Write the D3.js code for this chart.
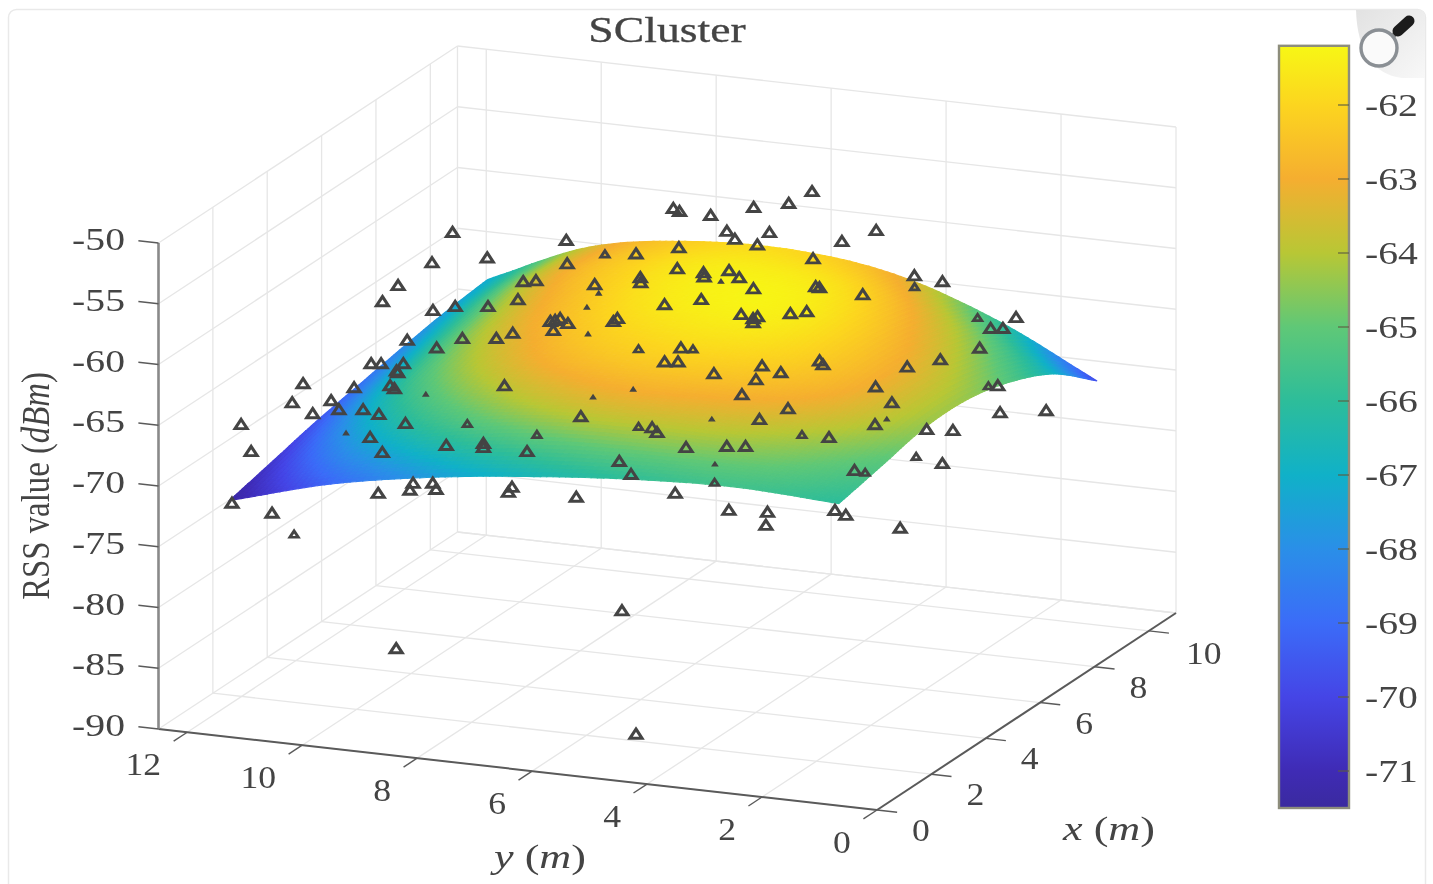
<!DOCTYPE html>
<html>
<head>
<meta charset="utf-8">
<script src="https://cdn.jsdelivr.net/npm/d3@7"></script>
<style>
  html, body { margin: 0; padding: 0; background: #fff; }
  svg { display: block; filter: blur(0.45px); }
  text { font-family: "Liberation Serif", serif; fill: #444; }
</style>
</head>
<body>
<div id="chart"></div>
<script>
// axis ticks
var xTicks = [0, 2, 4, 6, 8, 10];
var yTicks = [0, 2, 4, 6, 8, 10, 12];
var zTicks = [-90, -85, -80, -75, -70, -65, -60, -55, -50];
var colorTicks = [-62, -63, -64, -65, -66, -67, -68, -69, -70, -71];

// colour bar samples, low to high
var colorLevels = [-71.5, -71, -70, -69, -68, -67, -66, -65, -64, -63, -62, -61.2];
var colorStops = ["#3a2a9f", "#3f2bb5", "#4545e6", "#3b6cf8", "#2a8fe8", "#10b1c8", "#2dbd9a", "#5fc877", "#b8c735", "#f5ae30", "#fcd51f", "#f7f715"];

// fitted surface, rows run along x, columns along y
var surfX = [0.5, 2.08, 3.67, 5.25, 6.83, 8.42, 10];
var surfY = [0.9, 2.67, 4.43, 6.2, 7.97, 9.73, 11.5];
var surfRss = [
  [-66.0, -65.6, -65.9, -66.6, -67.6, -69.1, -71.4],
  [-65.2, -64.3, -63.9, -64.0, -65.0, -67.0, -70.5],
  [-64.4, -63.1, -62.6, -62.6, -63.4, -65.5, -69.6],
  [-64.4, -62.7, -61.8, -61.8, -62.6, -64.6, -68.9],
  [-65.3, -63.0, -61.5, -61.35, -62.1, -64.0, -68.2],
  [-67.0, -64.0, -61.9, -61.4, -61.9, -63.5, -67.6],
  [-69.9, -65.8, -63.0, -61.95, -62.2, -63.6, -67.2]
];

// measured points [x, y], one list per RSS level
var rssLevels = [-55, -60, -65, -70, -75, -85, -90];
var points55 = [[8.86,5.32],[8.17,5.40],[7.79,5.83],[7.18,6.29],[7.31,7.00],[7.20,6.84],[6.51,5.69],[6.17,5.39],[6.68,5.03],[6.64,3.75],[7.35,3.49],[4.98,9.74],[5.21,7.87]];
var points60 = [[8.92,6.30],[6.85,10.02],[6.32,10.73],[8.36,7.40],[7.84,7.90],[7.00,8.70],[8.56,5.16],[5.91,8.95],[6.02,8.78],[7.35,6.95],[7.30,6.47],[7.11,6.37],[7.54,6.14],[7.26,5.83],[6.73,7.30],[6.49,7.18],[6.15,7.82],[7.24,4.49],[7.21,4.41],[7.11,3.61],[6.81,5.37],[5.05,10.72],[5.02,8.62],[4.53,8.91],[4.36,9.40],[4.05,9.64],[4.20,10.59],[5.57,6.33],[6.01,5.90],[5.51,4.97],[5.38,4.70],[5.50,4.68],[5.19,4.61],[5.82,4.26],[6.00,4.06],[4.16,7.65],[4.23,7.60],[4.35,7.57],[4.15,7.34],[3.74,7.40],[4.66,6.72],[4.49,6.71],[3.39,7.94],[3.06,8.07],[2.87,8.57],[2.49,9.35],[8.29,3.27],[8.16,2.72],[6.19,0.95],[6.26,0.77],[6.85,0.82]];
var points65 = [[5.18,10.11],[6.49,6.48],[5.74,6.41],[5.81,6.21],[6.62,4.13],[6.45,3.99],[6.07,4.87],[5.85,4.44],[5.38,4.65],[5.44,5.41],[4.25,10.25],[3.79,10.13],[5.68,2.71],[3.74,8.25],[4.59,4.52],[5.01,2.11],[4.17,3.52],[2.68,6.42],[3.50,3.70],[3.88,1.87],[1.41,8.87],[6.80,2.69],[7.32,2.36],[8.09,2.04],[6.39,0.92],[5.12,0.28],[3.92,0.99],[4.02,0.58],[4.08,10.73],[4.13,10.58],[3.87,10.19],[3.13,9.95],[3.01,9.82],[2.76,11.29],[2.84,10.44],[1.79,11.02],[2.10,10.49],[1.71,10.17],[1.38,10.47],[1.84,9.81],[1.70,9.47],[0.48,11.29]];
var points70 = [[5.43,6.48],[5.23,6.30],[5.91,3.63],[3.48,9.14],[3.77,8.63],[3.58,8.54],[3.62,7.80],[4.67,5.53],[4.94,4.95],[5.04,4.67],[3.65,6.21],[3.09,5.74],[4.48,2.51],[1.15,8.67],[1.50,8.78],[1.33,8.30],[1.61,8.49],[1.84,7.22],[1.58,7.16],[1.71,6.04],[2.43,4.66],[1.91,3.48],[2.02,2.86],[2.47,1.90],[2.30,1.63],[5.28,1.36],[8.36,1.01],[0.83,9.07],[3.45,10.45],[2.80,9.93],[2.14,11.90],[1.39,2.59]];
var points75 = [[4.87,1.90],[2.47,12.39],[2.21,11.57]];
var points85 = [[5.23,6.91],[2.21,9.41]];
var points90 = [[2.32,5.29]];

// points that are partly under the surface [x, y, rss]
var halfHidden = [[7.67,8.36,-60],[6.22,7.09,-65],[6.51,6.28,-65],[1.74,7.95,-65],[2.52,5.34,-65],[5.91,4.10,-70],[4.49,8.04,-70],[3.16,4.32,-70],[4.45,2.31,-70],[7.77,3.02,-60],[6.64,1.39,-60],[6.34,1.06,-65],[5.48,1.91,-70],[1.33,10.77,-75]];
var mostlyHidden = [[7.01,6.03,-60],[5.79,7.58,-60],[5.06,7.44,-60],[3.79,6.82,-60],[3.70,6.69,-65],[4.29,6.27,-65],[2.94,9.24,-65],[3.29,4.43,-65],[4.23,1.83,-65],[4.06,4.74,-70],[3.56,10.92,-70]];

var width = 1433, height = 884;
var svg = d3.select("#chart").append("svg").attr("width", width).attr("height", height);
var defs = svg.append("defs");

// oblique 3d projection, one scale per screen contribution
var xToPx = d3.scaleLinear().domain([0, 11]).range([0, 299]);
var xToPy = d3.scaleLinear().domain([0, 11]).range([0, -197]);
var yToPx = d3.scaleLinear().domain([0, 12.5]).range([877, 158.5]);
var yToPy = d3.scaleLinear().domain([0, 12.5]).range([810, 729]);
var zToPy = d3.scaleLinear().domain([-90, -50]).range([0, -486]);
function project(x, y, z) {
  return [yToPx(y) + xToPx(x), yToPy(y) + xToPy(x) + zToPy(z)];
}

var color = d3.scaleLinear().domain(colorLevels).range(colorStops).clamp(true);

// page frame
svg.append("rect").attr("x", 8.5).attr("y", 9.5).attr("width", 1417).attr("height", 900).attr("rx", 8)
  .attr("fill", "#fff").attr("stroke", "#e9e9e9").attr("stroke-width", 1.5);

// grid
var grid = svg.append("g").attr("stroke", "#e6e6e6").attr("stroke-width", 1.3).attr("fill", "none");
function seg(g, a, b) {
  g.append("line").attr("x1", a[0]).attr("y1", a[1]).attr("x2", b[0]).attr("y2", b[1]);
}
xTicks.concat([11]).forEach(function(x) {
  seg(grid, project(x, 12.5, -90), project(x, 12.5, -50));
  seg(grid, project(x, 0, -90), project(x, 12.5, -90));
});
yTicks.forEach(function(y) {
  seg(grid, project(11, y, -90), project(11, y, -50));
  seg(grid, project(0, y, -90), project(11, y, -90));
});
zTicks.forEach(function(z) {
  seg(grid, project(0, 12.5, z), project(11, 12.5, z));
  seg(grid, project(11, 0, z), project(11, 12.5, z));
});

// surface, smoothed between the grid values for shading
function cr(p0, p1, p2, p3, t) {
  return 0.5 * (2 * p1 + (p2 - p0) * t + (2 * p0 - 5 * p1 + 4 * p2 - p3) * t * t + (3 * p1 - p0 - 3 * p2 + p3) * t * t * t);
}
function along(arr, i, t) {
  var n = arr.length;
  var p1 = arr[i], p2 = arr[i + 1];
  var p0 = i > 0 ? arr[i - 1] : 2 * p1 - p2;
  var p3 = i < n - 2 ? arr[i + 2] : 2 * p2 - p1;
  return cr(p0, p1, p2, p3, t);
}
function surfAt(fi, fj) {
  var i = Math.min(Math.floor(fi), surfX.length - 2), j = Math.min(Math.floor(fj), surfY.length - 2);
  var col = surfRss.map(function(row) { return along(row, j, fj - j); });
  return along(col, i, fi - i);
}
var sub = 16;
var nx = (surfX.length - 1) * sub, ny = (surfY.length - 1) * sub;
var xIndex = d3.scaleLinear().domain([0, surfX.length - 1]).range([surfX[0], surfX[surfX.length - 1]]);
var yIndex = d3.scaleLinear().domain([0, surfY.length - 1]).range([surfY[0], surfY[surfY.length - 1]]);
var surfPts = [];
for (var a = 0; a <= nx; a++) {
  surfPts.push([]);
  for (var b = 0; b <= ny; b++) {
    var z = surfAt(a / sub, b / sub);
    surfPts[a].push({ p: project(xIndex(a / sub), yIndex(b / sub), z), z: z });
  }
}
var cells = [];
for (var a2 = nx - 1; a2 >= 0; a2--) {
  for (var b2 = ny - 1; b2 >= 0; b2--) {
    cells.push([surfPts[a2][b2], surfPts[a2 + 1][b2], surfPts[a2 + 1][b2 + 1], surfPts[a2][b2 + 1]]);
  }
}
svg.append("g").selectAll("path").data(cells).enter().append("path")
  .attr("d", function(d) { return "M" + d.map(function(c) { return c.p[0].toFixed(1) + "," + c.p[1].toFixed(1); }).join("L") + "Z"; })
  .attr("fill", function(d) { return color(d3.mean(d, function(c) { return c.z; })); })
  .attr("stroke", function(d) { return color(d3.mean(d, function(c) { return c.z; })); })
  .attr("stroke-width", 1.1);

// markers
var pointLists = [points55, points60, points65, points70, points75, points85, points90];
var pointRows = [];
pointLists.forEach(function(list, i) {
  list.forEach(function(p) { pointRows.push([p[0], p[1], rssLevels[i]]); });
});
function markers(rows, size, sw, fill) {
  svg.append("g").selectAll("path").data(rows).enter().append("path")
    .attr("d", d3.symbol().type(d3.symbolTriangle).size(size))
    .attr("transform", function(d) { var p = project(d[0], d[1], d[2]); return "translate(" + p[0] + "," + (p[1] + 1) + ") scale(1.08,0.95)"; })
    .attr("fill", fill).attr("stroke", "#444").attr("stroke-width", sw).attr("stroke-linejoin", "miter");
}
markers(pointRows, 54, 3, "none");
markers(halfHidden, 26, 2.8, "none");
markers(mostlyHidden, 9, 1.5, "#444");

// axes
var axes = svg.append("g").attr("stroke", "#5a5a5a").attr("fill", "none");
function axisSeg(a, b, w, c) {
  axes.append("line").attr("x1", a[0]).attr("y1", a[1]).attr("x2", b[0]).attr("y2", b[1])
    .attr("stroke-width", w).attr("stroke", c || "#5a5a5a");
}
axisSeg(project(0, 0, -90), project(0, 12.5, -90), 2);
axisSeg(project(0, 0, -90), project(11, 0, -90), 2);
axisSeg(project(0, 12.5, -90), project(0, 12.5, -50), 2.6, "#8a8a8a");
yTicks.forEach(function(y) { axisSeg(project(0, y, -90), project(-0.5, y, -90), 1.4); });
xTicks.forEach(function(x) { axisSeg(project(x, 0, -90), project(x, -0.35, -90), 1.4); });
zTicks.forEach(function(z) { axisSeg(project(0, 12.5, z), project(0, 12.85, z), 1.4); });

function label(x, y, sx, size, anchor) {
  return svg.append("text")
    .attr("transform", "translate(" + x + "," + y + ") scale(" + sx + ",1)")
    .attr("font-size", size).attr("text-anchor", anchor || "middle");
}
yTicks.forEach(function(y) {
  var p = project(0, y, -90);
  label(p[0] - (y >= 10 ? 44 : 35), p[1] + 43, 1.15, 31).text(y);
});
xTicks.forEach(function(x) {
  var p = project(x, 0, -90);
  label(p[0] + (x === 10 ? 55 : 44), p[1] + (x === 10 ? 33 : 31), 1.15, 31).text(x);
});
zTicks.forEach(function(z) {
  var p = project(0, 12.5, z);
  label(125, p[1] + 7, 1.28, 31, "end").text(z);
});

label(667, 42, 1.27, 36).attr("stroke", "#444").attr("stroke-width", 0.3).text("SCluster");
var yl = label(540, 868, 1.3, 34);
yl.append("tspan").attr("font-style", "italic").text("y");
yl.append("tspan").text(" (");
yl.append("tspan").attr("font-style", "italic").text("m");
yl.append("tspan").text(")");
var xl = label(1109, 840, 1.3, 34);
xl.append("tspan").attr("font-style", "italic").text("x");
xl.append("tspan").text(" (");
xl.append("tspan").attr("font-style", "italic").text("m");
xl.append("tspan").text(")");
var zl = svg.append("text").attr("transform", "translate(49,486) rotate(-90) scale(0.82,1)")
  .attr("font-size", 40).attr("text-anchor", "middle");
zl.append("tspan").text("RSS value (");
zl.append("tspan").attr("font-style", "italic").text("dBm");
zl.append("tspan").text(")");

// colour bar
var barY = d3.scaleLinear().domain([-62, -71]).range([105, 771]);
var barTop = -61.2, barBottom = -71.5;
var barX = 1279, barW = 70;
var barGrad = defs.append("linearGradient").attr("id", "barGrad").attr("x1", 0).attr("y1", 1).attr("x2", 0).attr("y2", 0);
var barOffset = d3.scaleLinear().domain([barBottom, barTop]).range([0, 1]);
colorLevels.forEach(function(v, i) {
  barGrad.append("stop").attr("offset", barOffset(v)).attr("stop-color", colorStops[i]);
});
svg.append("rect").attr("x", barX).attr("width", barW)
  .attr("y", barY(barTop)).attr("height", barY(barBottom) - barY(barTop))
  .attr("fill", "url(#barGrad)").attr("stroke", "#8d8d7c").attr("stroke-width", 2.4);
colorTicks.forEach(function(v) {
  svg.append("line").attr("x1", barX + barW - 11).attr("x2", barX + barW)
    .attr("y1", barY(v)).attr("y2", barY(v))
    .attr("stroke", "#5c5c40").attr("stroke-width", 1.5).attr("opacity", 0.75);
  label(1365, barY(v) + 11, 1.28, 31, "start").text(v);
});

// magnifier tab, top right
var tabGrad = defs.append("linearGradient").attr("id", "tabGrad").attr("x1", 0).attr("y1", 0).attr("x2", 1).attr("y2", 1);
tabGrad.append("stop").attr("offset", 0).attr("stop-color", "#e2e2e2");
tabGrad.append("stop").attr("offset", 1).attr("stop-color", "#f8f8f8");
svg.append("path").attr("d", "M1356,10H1419Q1425,10 1425,16V78H1402Q1358,72 1356,10Z").attr("fill", "url(#tabGrad)");
svg.append("line").attr("x1", 1390).attr("y1", 39).attr("x2", 1399).attr("y2", 30)
  .attr("stroke", "#777").attr("stroke-width", 5);
svg.append("line").attr("x1", 1398).attr("y1", 31).attr("x2", 1409).attr("y2", 21)
  .attr("stroke", "#1c1c1c").attr("stroke-width", 11).attr("stroke-linecap", "round");
svg.append("circle").attr("cx", 1379).attr("cy", 48).attr("r", 18)
  .attr("fill", "#fafafa").attr("stroke", "#8a8f94").attr("stroke-width", 3.4);
</script>
</body>
</html>
